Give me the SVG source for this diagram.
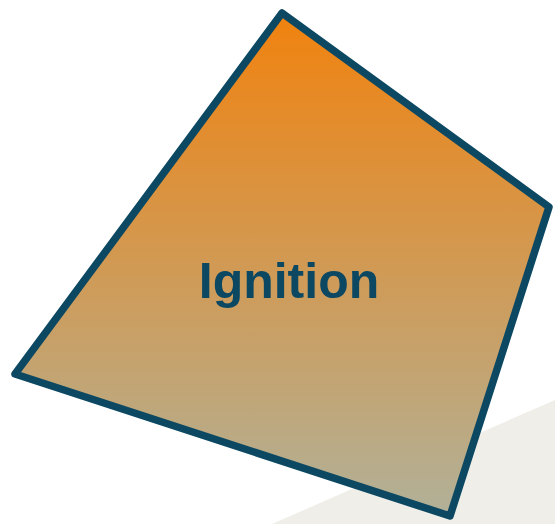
<svg xmlns="http://www.w3.org/2000/svg" width="555" height="524" viewBox="0 0 555 524">
<defs>
<linearGradient id="g" x1="0" y1="12" x2="0" y2="517" gradientUnits="userSpaceOnUse">
<stop offset="0" stop-color="#f1820e"/>
<stop offset="1" stop-color="#b1b199"/>
</linearGradient>
<style>
.shape{fill:url(#g);stroke:#0c4862;stroke-width:7.5;stroke-linejoin:round}
.lbl{font-family:"Liberation Sans",Arial,sans-serif;font-weight:bold;font-size:50px;fill:#0c4862;text-anchor:middle}
</style>
</defs>
<rect width="555" height="524" fill="#ffffff"/>
<polygon points="272,524 555,400 555,524" fill="#efeee8"/>
<g id="ignition">
<polygon class="shape" points="282,13 549,207 450,516 15,374"/>
<text class="lbl" x="289" y="298">Ignition</text>
</g>
<g id="connectors"/>
</svg>
